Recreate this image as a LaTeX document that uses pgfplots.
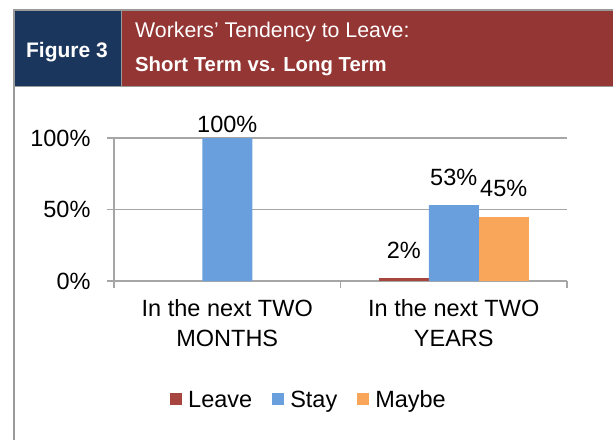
\documentclass[border=0pt]{standalone}
\usepackage{fontspec}
\setmainfont{Liberation Sans}
\usepackage{pgfplots}
\pgfplotsset{compat=1.18}
\definecolor{navy}{HTML}{1B365D}
\definecolor{hdrred}{HTML}{943634}
\definecolor{leavec}{HTML}{A6463F}
\definecolor{stayc}{HTML}{6A9FDE}
\definecolor{maybec}{HTML}{F9A65A}
\definecolor{axgray}{HTML}{A6A6A6}
\definecolor{bordergray}{HTML}{9A9A9A}
\pgfplotsset{sqlegend/.style={legend image code/.code={\fill[##1,draw=none] (0pt,-5pt) rectangle (12pt,7pt);}}}
\begin{document}
\begin{tikzpicture}[x=1pt,y=1pt]
\path[use as bounding box] (0,0) rectangle (613,440);
% header
\fill[navy] (14,354) rectangle (121,429);
\fill[hdrred] (122,354) rectangle (613,429);
\draw[bordergray,line width=2pt] (13.5,0) -- (13.5,430) -- (613,430);
\draw[bordergray,line width=1pt] (121.5,354) -- (121.5,429);
\draw[bordergray,line width=1pt] (13.5,353.5) -- (613,353.5);
\node[anchor=base,white,inner sep=0pt,font=\bfseries\fontsize{21}{25}\selectfont] at (67,382) {Figure 3};
\node[anchor=base west,white,inner sep=0pt,font=\fontsize{21.3}{25}\selectfont] at (135,402) {Workers’ Tendency to Leave:};
\node[anchor=base west,white,inner sep=0pt,font=\bfseries\fontsize{20.3}{25}\selectfont] at (135,368) {Short Term vs. Long Term};
\begin{axis}[
  at={(114pt,159pt)}, anchor=south west,
  scale only axis, width=453pt, height=143pt,
  xmin=0.5, xmax=2.5, ymin=0, ymax=100,
  axis x line*=bottom, axis y line*=left,
  axis line style={axgray,line width=1.3pt,-},
  ymajorgrids, grid style={axgray,line width=1.3pt},
  major tick style={axgray,line width=1.3pt},
  major tick length=7pt, tick align=outside,
  ytick={0,50,100}, yticklabels={0\%,50\%,100\%},
  yticklabel style={xshift=-13pt},
  xtick={0.5,1.5,2.5}, xticklabels={},
  extra x ticks={1,2},
  extra x tick labels={In the next TWO\\MONTHS,In the next TWO\\YEARS},
  extra x tick style={major tick length=0pt, grid=none, xticklabel style={yshift=-15pt}},
  tick label style={font=\fontsize{23.5}{30}\selectfont, text=black},
  xticklabel style={align=center},
  ybar=0pt, bar width=50pt,
  legend columns=3,
  legend style={at={(0.4305,-0.832)}, anchor=center, draw=none, fill=none,
    font=\fontsize{23.5}{28}\selectfont,
    /tikz/every odd column/.append style={column sep=4pt},
    /tikz/every even column/.append style={column sep=18pt}},
  clip=false,
]
\addplot[ybar, fill=leavec, draw=none, sqlegend] coordinates {(2,2)};
\addplot[ybar, fill=stayc, draw=none, sqlegend] coordinates {(1,100) (2,53)};
\addplot[ybar, fill=maybec, draw=none, sqlegend] coordinates {(2,45)};
\legend{Leave,Stay,Maybe}
\node[anchor=base,yshift=6pt,font=\fontsize{23.5}{28}\selectfont] at (axis cs:1,100) {100\%};
\node[anchor=base,xshift=-50pt,yshift=20pt,font=\fontsize{23.5}{28}\selectfont] at (axis cs:2,2) {2\%};
\node[anchor=base,yshift=20pt,font=\fontsize{23.5}{28}\selectfont] at (axis cs:2,53) {53\%};
\node[anchor=base,xshift=50pt,yshift=20pt,font=\fontsize{23.5}{28}\selectfont] at (axis cs:2,45) {45\%};
\end{axis}
\end{tikzpicture}
\end{document}
